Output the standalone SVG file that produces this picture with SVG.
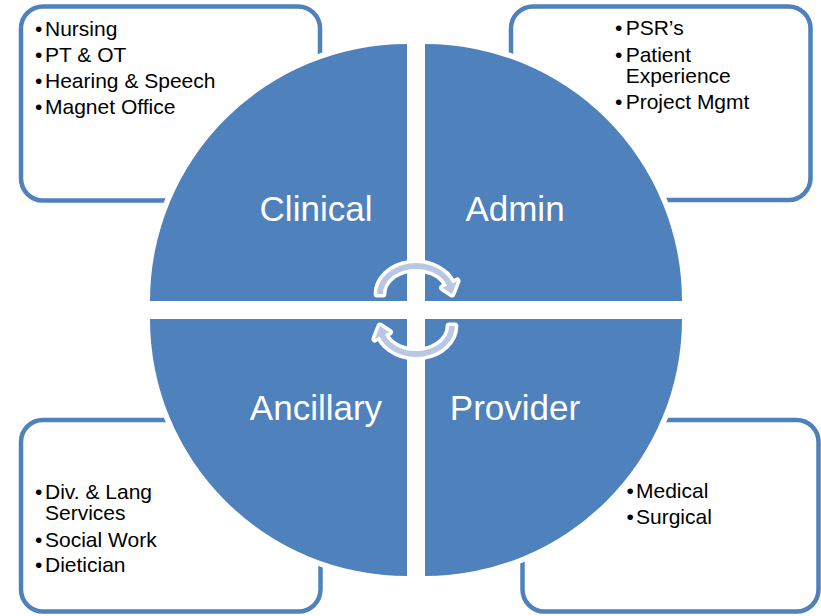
<svg xmlns="http://www.w3.org/2000/svg" width="821" height="616" viewBox="0 0 821 616">
  <style>
    .box { fill: #FFFFFF; stroke: #4F81BD; stroke-width: 4.5; }
    .quad { fill: #4F81BD; stroke: #FFFFFF; stroke-width: 11; paint-order: stroke; stroke-linejoin: miter; }
    .item { font-family: "Liberation Sans", Arial, sans-serif; font-size: 21px; fill: #000000; }
    .label { font-family: "Liberation Sans", Arial, sans-serif; font-size: 35px; fill: #FFFFFF; text-anchor: middle; }
    .cycle { fill: #B9C8E1; stroke: #FFFFFF; stroke-width: 7; paint-order: stroke; stroke-linejoin: round; }
  </style>
  <defs>
    <!-- curved arrow: elliptical band with a short head -->
    <path id="turn" d="M377.1,294 A38.9,30.9 0 0 1 452.55,283.43 L457.1,281 L452,294 L442.6,287.8 L447.1,285.42 A33.1,25.1 0 0 0 382.9,294 Z"/>
  </defs>
  <rect width="821" height="616" fill="#FFFFFF"/>

  <!-- detail boxes behind the wheel -->
  <g id="box-clinical">
    <rect class="box" x="21" y="6.5" width="299" height="194" rx="22" ry="22"/>
    <text class="item" x="35" y="36">•</text><text class="item" x="45" y="36">Nursing</text>
    <text class="item" x="35" y="62.3">•</text><text class="item" x="45" y="62.3">PT &amp; OT</text>
    <text class="item" x="35" y="88.3">•</text><text class="item" x="45" y="88.3">Hearing &amp; Speech</text>
    <text class="item" x="35" y="114.3">•</text><text class="item" x="45" y="114.3">Magnet Office</text>
  </g>
  <g id="box-admin">
    <rect class="box" x="511" y="6.5" width="299.5" height="193.5" rx="22" ry="22"/>
    <text class="item" x="615" y="35">•</text><text class="item" x="625.7" y="35">PSR’s</text>
    <text class="item" x="615" y="62">•</text>
    <text class="item" x="625.7" y="62">Patient<tspan x="625.7" dy="21.3">Experience</tspan></text>
    <text class="item" x="615" y="109.3">•</text><text class="item" x="625.7" y="109.3">Project Mgmt</text>
  </g>
  <g id="box-ancillary">
    <rect class="box" x="21" y="420" width="299.5" height="191.5" rx="22" ry="22"/>
    <text class="item" x="35" y="499">•</text>
    <text class="item" x="45" y="499">Div. &amp; Lang<tspan x="45" dy="21.4">Services</tspan></text>
    <text class="item" x="35" y="546.7">•</text><text class="item" x="45" y="546.7">Social Work</text>
    <text class="item" x="35" y="572">•</text><text class="item" x="45" y="572">Dietician</text>
  </g>
  <g id="box-provider">
    <rect class="box" x="522.5" y="420" width="296" height="191.5" rx="22" ry="22"/>
    <text class="item" x="626.5" y="498.3">•</text><text class="item" x="636" y="498.3">Medical</text>
    <text class="item" x="626.5" y="524">•</text><text class="item" x="636" y="524">Surgical</text>
  </g>

  <!-- wheel quadrants -->
  <g id="clinical">
    <path class="quad" d="M407,301 L150,301 A257,257 0 0 1 407,44 Z"/>
    <text class="label" x="316" y="221">Clinical</text>
  </g>
  <g id="admin">
    <path class="quad" d="M425,301 L425,44 A257,257 0 0 1 682,301 Z"/>
    <text class="label" x="515" y="221">Admin</text>
  </g>
  <g id="provider">
    <path class="quad" d="M425,319 L682,319 A257,257 0 0 1 425,576 Z"/>
    <text class="label" x="515" y="420">Provider</text>
  </g>
  <g id="ancillary">
    <path class="quad" d="M407,319 L407,576 A257,257 0 0 1 150,319 Z"/>
    <text class="label" x="316" y="420">Ancillary</text>
  </g>

  <!-- cycle arrows in the hub -->
  <g id="connectors">
    <use href="#turn" class="cycle"/>
    <use href="#turn" class="cycle" transform="rotate(180 416 310)"/>
  </g>
</svg>
